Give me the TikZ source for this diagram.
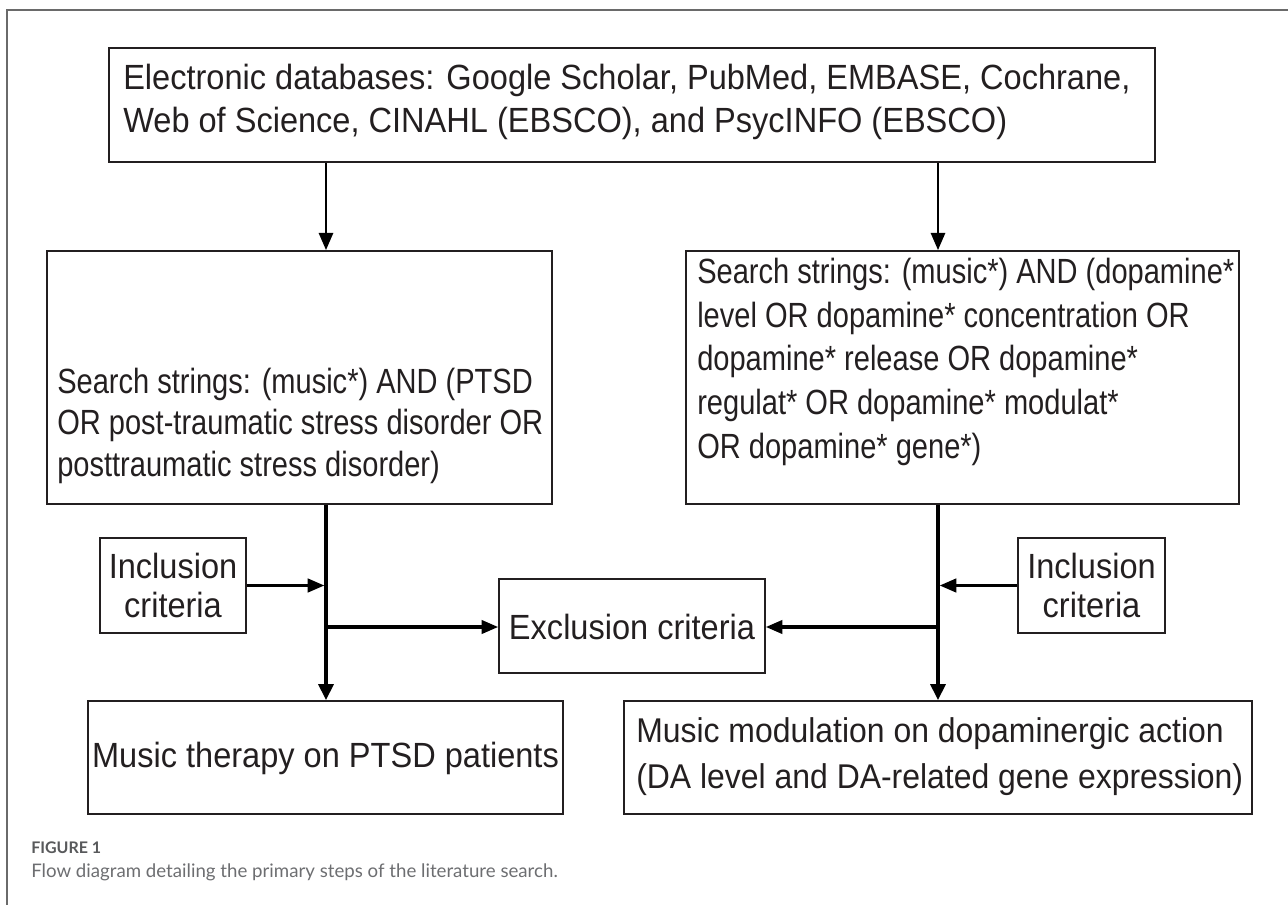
\documentclass[tikz,border=0pt]{standalone}
\usepackage{fontspec}
\setmainfont{Liberation Sans}[FakeStretch=0.93]
\newfontfamily\narrowfont{Liberation Sans}[FakeStretch=0.83]
\newfontfamily\capfont{Lato}
\usetikzlibrary{arrows.meta}
\definecolor{ink}{HTML}{231F20}
\definecolor{framegray}{HTML}{6A6A6A}
\definecolor{capgray}{HTML}{58595B}
\definecolor{captext}{HTML}{6D6E71}
\begin{document}
\begin{tikzpicture}[x=0.75pt,y=-0.75pt,
  box/.style={draw=ink, line width=1.2pt, inner sep=0pt},
  txt/.style={inner sep=0pt, text=ink, font=\fontsize{26.25pt}{32pt}\selectfont},
  stxt/.style={inner sep=0pt, text=ink, anchor=base west, font=\narrowfont\fontsize{26.25pt}{32pt}\selectfont},
  lnw/.style={txt, anchor=base west},
  lnc/.style={txt, anchor=base},
  arr/.style={draw=black, line width=2.2pt, -{Triangle[width=10.5pt,length=13pt]}},
  arrthick/.style={draw=black, line width=3pt, -{Triangle[width=11pt,length=12pt]}},
  harr/.style={draw=black, line width=2.4pt, -{Triangle[width=10pt,length=12.5pt]}}
]
\useasboundingbox (0,0) rectangle (1288,905);
% frame
\draw[framegray, line width=1.1pt] (7,905) -- (7,10) -- (1288,10);

% boxes
\node[box, minimum width=378.75pt, minimum height=189.75pt] (sl) at (299.5,377.5) {};
\node[box, minimum width=784.5pt, minimum height=85.5pt] (db) at (632,105) {};
\node[box, minimum width=414.75pt, minimum height=189.75pt] (sr) at (962.5,377.5) {};
\node[box, minimum width=109.5pt, minimum height=71.25pt] (il) at (173,585.5) {};
\node[box, minimum width=110.25pt, minimum height=71.25pt] (ir) at (1091.5,585.5) {};
\node[box, minimum width=199.5pt, minimum height=70.5pt] (ex) at (632,626) {};
\node[box, minimum width=356.25pt, minimum height=84.75pt] (ml) at (325.5,757.5) {};
\node[box, minimum width=471pt, minimum height=84.75pt] (mr) at (938,757.5) {};

% texts
\node[lnw] (db1) at (123,90) {Electronic databases: Google Scholar, PubMed, EMBASE, Cochrane,};
\node[lnw] (db2) at (123,133) {Web of Science, CINAHL (EBSCO), and PsycINFO (EBSCO)};

\node[stxt] (sl1) at (57,393) {Search strings: (music*) AND (PTSD};
\node[stxt] (sl2) at (57,434.5) {OR post-traumatic stress disorder OR};
\node[stxt] (sl3) at (57,476) {posttraumatic stress disorder)};

\node[stxt] (sr1) at (697,284) {Search strings: (music*) AND (dopamine*};
\node[stxt] (sr2) at (697,327.5) {level OR dopamine* concentration OR};
\node[stxt] (sr3) at (697,371) {dopamine* release OR dopamine*};
\node[stxt] (sr4) at (697,414.5) {regulat* OR dopamine* modulat*};
\node[stxt] (sr5) at (697,458) {OR dopamine* gene*)};

\node[lnc] (il1) at (173,578) {Inclusion};
\node[lnc] (il2) at (173,617) {criteria};
\node[lnc] (ir1) at (1091.5,578) {Inclusion};
\node[lnc] (ir2) at (1091.5,617) {criteria};
\node[lnc] (ex1) at (632,639) {Exclusion criteria};

\node[lnc] (ml1) at (325.5,767) {Music therapy on PTSD patients};
\node[lnw, font=\fontsize{25.75pt}{32pt}\selectfont] (mr1) at (636,742) {Music modulation on dopaminergic action};
\node[lnw, font=\fontsize{25.75pt}{32pt}\selectfont] (mr2) at (636,788) {(DA level and DA-related gene expression)};

% caption
\node[anchor=base west, inner sep=0pt, text=capgray, font=\capfont\bfseries\fontsize{12pt}{14pt}\selectfont] (fig) at (31,853) {FIGURE 1};
\node[anchor=base west, inner sep=0pt, text=captext, font=\capfont\fontsize{14pt}{16pt}\selectfont] (cap) at (31,877) {Flow diagram detailing the primary steps of the literature search.};

% connectors
\coordinate (cl) at (326,0);
\coordinate (cr) at (938,0);
\coordinate (jl) at (326,627);
\coordinate (jr) at (938,627);
\draw[arr] (db.south -| cl) -- (sl.north -| cl);
\draw[arr] (db.south -| cr) -- (sr.north -| cr);
\draw[arrthick] (sl.south -| cl) -- (ml.north -| cl);
\draw[arrthick] (sr.south -| cr) -- (mr.north -| cr);
\draw[harr, shorten >=1.2pt] (il.east) -- (il.east -| cl);
\draw[harr, shorten >=1.2pt] (ir.west) -- (ir.west -| cr);
\draw[harr] (jl) -- (jl -| ex.west);
\draw[harr] (jr) -- (jr -| ex.east);
\end{tikzpicture}
\end{document}
